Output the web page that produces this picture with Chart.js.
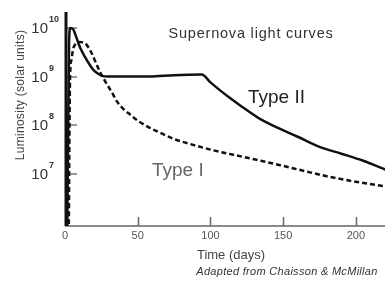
<!DOCTYPE html>
<html>
<head>
<meta charset="utf-8">
<script src="https://cdn.jsdelivr.net/npm/chart.js@4"></script>
<style>
  html, body { margin: 0; padding: 0; background: #fff; }
  #c { display: block; }
</style>
</head>
<body>
<canvas id="c" width="385" height="286"></canvas>
<script>
// Type II (solid) light curve: days and luminosity (solar units)
var typeIIDays = [1.5, 2.8, 3.6, 5.5, 7.5, 10, 13.5, 16, 20, 25, 30, 45, 58, 75, 94, 100, 106, 113, 120, 134, 146, 160, 175, 190, 205, 221];
var typeIILum  = [3e5, 5.0e9, 1.0e10, 9.5e9, 6.8e9, 4.2e9, 2.6e9, 1.95e9, 1.32e9, 1.05e9, 1.0e9, 1.0e9, 1.0e9, 1.07e9, 1.1e9,
                  7.6e8, 5.4e8, 3.7e8, 2.6e8, 1.35e8, 8.9e7, 5.8e7, 3.6e7, 2.6e7, 1.86e7, 1.2e7];

// Type I (dashed) light curve
var typeIDays = [2.5, 3.5, 4.5, 5.5, 7, 10, 14, 18, 21, 24, 28.9, 32.3, 35.7, 39.9, 44.7, 50.2, 57, 65, 75, 85, 100,
                 115, 130, 148, 166, 182, 200, 221];
var typeILum  = [3e5, 1.0e9, 2.24e9, 3.63e9, 4.57e9, 5.13e9, 4.79e9, 3.16e9, 2.0e9, 1.26e9, 6.9e8, 4.7e8, 3.1e8, 2.2e8,
                 1.66e8, 1.23e8, 9.3e7, 7.1e7, 5.2e7, 4.2e7, 3.16e7, 2.5e7, 2.0e7, 1.51e7, 1.12e7, 8.7e6, 6.9e6, 5.5e6];

// tick labels
var yTickExps = [7, 8, 9, 10];
var xTicks = [0, 50, 100, 150, 200];

var FONT = "'Liberation Sans', Arial, sans-serif";

function pairs(xs, ys) {
    var out = [];
    for (let i = 0; i < xs.length; i++) {
        out.push({x: xs[i], y: ys[i]});
    }
    return out;
}

var axesPlugin = {
    id: "axesPlugin",
    beforeDatasetsDraw: function(chart) {
        var ctx = chart.ctx;
        var a = chart.chartArea;
        var xs = chart.scales.x, ys = chart.scales.y;
        ctx.save();
        // x axis
        ctx.strokeStyle = "#8a8a8a";
        ctx.lineWidth = 2;
        ctx.beginPath();
        ctx.moveTo(a.left, a.bottom);
        ctx.lineTo(a.right, a.bottom);
        ctx.stroke();
        ctx.strokeStyle = "#666";
        ctx.lineWidth = 1.5;
        xTicks.forEach(function(t){
            if (t == 0) return;
            var px = Math.round(xs.getPixelForValue(t)) + 0.5;
            ctx.beginPath();
            ctx.moveTo(px, a.bottom - 9);
            ctx.lineTo(px, a.bottom);
            ctx.stroke();
        });
        // y axis major ticks (inside)
        ctx.strokeStyle = "#999";
        ctx.lineWidth = 2;
        yTickExps.forEach(function(e){
            var py = Math.round(ys.getPixelForValue(Math.pow(10, e)));
            ctx.beginPath();
            ctx.moveTo(a.left, py);
            ctx.lineTo(a.left + 12, py);
            ctx.stroke();
        });
        // y axis line
        ctx.strokeStyle = "#111";
        ctx.lineWidth = 3;
        ctx.beginPath();
        ctx.moveTo(a.left + 1, a.top - 6);
        ctx.lineTo(a.left + 1, a.bottom);
        ctx.stroke();
        ctx.restore();
    },
    afterDraw: function(chart) {
        var ctx = chart.ctx;
        var a = chart.chartArea;
        var xs = chart.scales.x, ys = chart.scales.y;
        ctx.save();
        ctx.textBaseline = "alphabetic";

        // y tick labels 10^n
        yTickExps.forEach(function(e){
            var py = ys.getPixelForValue(Math.pow(10, e));
            ctx.fillStyle = "#333";
            ctx.font = "15px " + FONT;
            ctx.textAlign = "right";
            ctx.fillText("10", 48, py + 5);
            ctx.font = "bold 9px " + FONT;
            ctx.textAlign = "left";
            ctx.fillText(String(e), 49, py - 6);
        });

        // x tick labels
        ctx.fillStyle = "#555";
        ctx.font = "11px " + FONT;
        ctx.textAlign = "center";
        xTicks.forEach(function(t){
            ctx.fillText(String(t), xs.getPixelForValue(t), a.bottom + 13);
        });

        // x axis title
        ctx.fillStyle = "#444";
        ctx.font = "13px " + FONT;
        ctx.fillText("Time (days)", 231, 259);

        // credit
        ctx.font = "italic 11px " + FONT;
        ctx.letterSpacing = "0.3px";
        ctx.fillStyle = "#333";
        ctx.fillText("Adapted from Chaisson & McMillan", 287, 275);

        // title
        ctx.font = "14.5px " + FONT;
        ctx.letterSpacing = "0.8px";
        ctx.fillStyle = "#333";
        ctx.fillText("Supernova light curves", 251, 38);
        ctx.letterSpacing = "0px";

        // curve labels
        ctx.font = "19px " + FONT;
        ctx.textAlign = "left";
        ctx.fillStyle = "#222";
        ctx.fillText("Type II", 248, 103);
        ctx.fillStyle = "#666";
        ctx.fillText("Type I", 152, 176);

        // y axis title
        ctx.translate(20, 95);
        ctx.rotate(-Math.PI / 2);
        ctx.textAlign = "center";
        ctx.fillStyle = "#444";
        ctx.font = "12px " + FONT;
        ctx.letterSpacing = "0.3px";
        ctx.fillText("Luminosity (solar units)", 0, 4);
        ctx.restore();
    }
};

new Chart(document.getElementById("c"), {
    type: "line",
    data: {
        datasets: [
            {
                label: "Type II",
                data: pairs(typeIIDays, typeIILum),
                borderColor: "#111",
                borderWidth: 2.5,
                pointRadius: 0,
                cubicInterpolationMode: "monotone",
                fill: false
            },
            {
                label: "Type I",
                data: pairs(typeIDays, typeILum),
                borderColor: "#111",
                borderWidth: 2.5,
                borderDash: [5, 3],
                pointRadius: 0,
                cubicInterpolationMode: "monotone",
                fill: false
            }
        ]
    },
    options: {
        responsive: false,
        devicePixelRatio: 1,
        animation: false,
        layout: { padding: { left: 65, right: 0, top: 18, bottom: 60 } },
        plugins: { legend: { display: false }, tooltip: { enabled: false } },
        scales: {
            x: { type: "linear", min: 0, max: 220, display: false },
            y: { type: "logarithmic", min: 8.5e5, max: 1.6e10, display: false }
        }
    },
    plugins: [axesPlugin]
});
</script>
</body>
</html>
